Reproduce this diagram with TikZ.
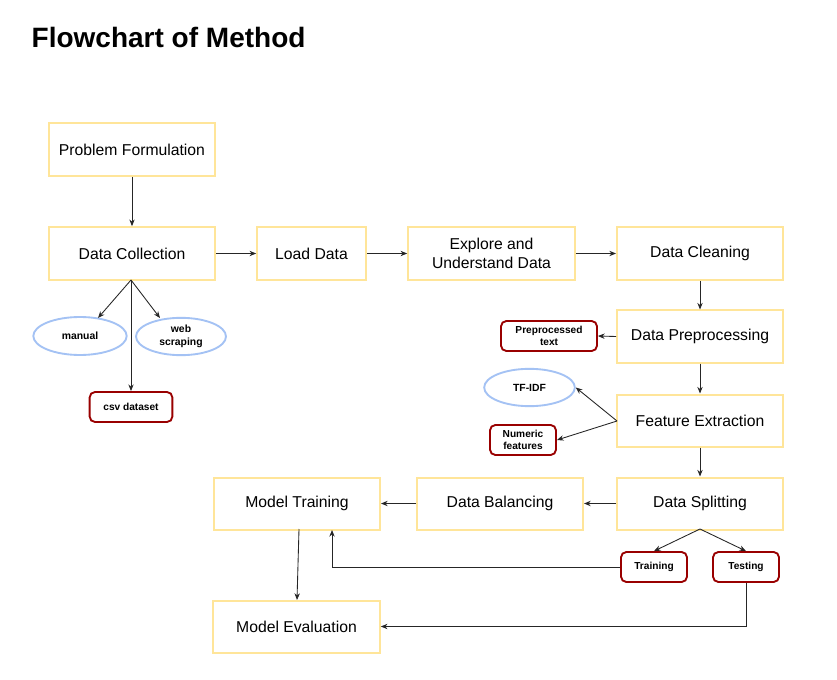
\documentclass[tikz,border=0pt]{standalone}
\usepackage{fontspec}
\setmainfont{Liberation Sans}
\usetikzlibrary{shapes.geometric,arrows.meta}
\definecolor{boxy}{HTML}{FFE599}
\definecolor{ellb}{HTML}{A4C2F4}
\definecolor{darkr}{HTML}{990000}
\begin{document}
\begin{tikzpicture}[x=0.75pt,y=-0.75pt,
  mainbox/.style={draw=boxy,line width=1.5pt,fill=white,inner sep=0pt,font=\fontsize{11.8}{14}\selectfont,align=center},
  ellnode/.style={ellipse,draw=ellb,line width=1.4pt,inner sep=0pt,font=\bfseries\fontsize{7.8}{9.5}\selectfont,align=center},
  redbox/.style={draw=darkr,line width=1.4pt,rounded corners=4pt,inner sep=0pt,font=\bfseries\fontsize{7.6}{9.2}\selectfont,align=center},
  arr/.style={-{Stealth[length=5pt,width=4pt]},line width=0.65pt,black!85}]
\useasboundingbox[fill=white] (0,0) rectangle (837,680);
\node[anchor=base west,font=\bfseries\fontsize{21}{24}\selectfont] (title) at (27,48) {Flowchart of Method};
% main boxes
\node[mainbox,minimum width=124.5pt,minimum height=39.5pt] (pf) at (132,149.5) {Problem Formulation};
\node[mainbox,minimum width=124.5pt,minimum height=39.5pt] (dc) at (132,253.5) {Data Collection};
\node[mainbox,minimum width=81.5pt,minimum height=39.5pt] (ld) at (311.5,253.5) {Load Data};
\node[mainbox,minimum width=125pt,minimum height=39.5pt] (ex) at (491.5,253.5) {Explore and\\Understand Data};
\node[mainbox,minimum width=124.5pt,minimum height=39.5pt] (cl) at (700,253.5) {Data Cleaning};
\node[mainbox,minimum width=124.5pt,minimum height=39pt] (pp) at (700,336.5) {Data Preprocessing};
\node[mainbox,minimum width=124.5pt,minimum height=39pt] (fe) at (700,420.5) {Feature Extraction};
\node[mainbox,minimum width=124.5pt,minimum height=39pt] (ds) at (700,503.5) {Data Splitting};
\node[mainbox,minimum width=124.5pt,minimum height=39pt] (db) at (500,503.5) {Data Balancing};
\node[mainbox,minimum width=124.5pt,minimum height=39pt] (mt) at (297,503.5) {Model Training};
\node[mainbox,minimum width=125pt,minimum height=39pt] (me) at (296.5,626.5) {Model Evaluation};
% ellipses
\node[ellnode,minimum width=70pt,minimum height=28.5pt] (man) at (80,336) {manual};
\node[ellnode,minimum width=67.5pt,minimum height=28pt] (web) at (181,336.5) {web\\scraping};
\node[ellnode,minimum width=68pt,minimum height=28pt] (tf) at (529.5,387.5) {TF-IDF};
% red boxes
\node[redbox,minimum width=62pt,minimum height=22.5pt] (csv) at (131,407) {csv dataset};
\node[redbox,minimum width=72pt,minimum height=22.5pt] (ptx) at (549,336) {Preprocessed\\text};
\node[redbox,minimum width=49.5pt,minimum height=22.5pt] (num) at (523,440) {Numeric\\features};
\node[redbox,minimum width=49.5pt,minimum height=22.5pt] (trn) at (654,567) {Training};
\node[redbox,minimum width=49.5pt,minimum height=22.5pt] (tst) at (746,567) {Testing};
% connectors
\coordinate (dcb) at (131,280);
\coordinate (feL) at (617,421);
\coordinate (dsb) at (700,529);
\draw[arr] (pf.south) -- (dc.north);
\draw[arr] (dcb) -- (98,318);
\draw[arr] (dcb) -- (160,318);
\draw[arr] (dcb) -- (csv.north);
\draw[arr] (dc.east) -- (ld.west);
\draw[arr] (ld.east) -- (ex.west);
\draw[arr] (ex.east) -- (cl.west);
\draw[arr] (cl.south) -- (pp.north);
\draw[arr] (pp.west) -- (ptx.east);
\draw[arr] (pp.south) -- (fe.north);
\draw[arr] (feL) -- (tf.east);
\draw[arr] (feL) -- (num.east);
\draw[arr] (fe.south) -- (ds.north);
\draw[arr] (ds.west) -- (db.east);
\draw[arr] (db.west) -- (mt.east);
\draw[arr] (dsb) -- (trn.north);
\draw[arr] (dsb) -- (tst.north);
\draw[arr] (trn.west) -| (332,530);
\draw[arr] (tst.south) |- (me.east);
\draw[arr] (299,529) -- (297,600);
\end{tikzpicture}
\end{document}
